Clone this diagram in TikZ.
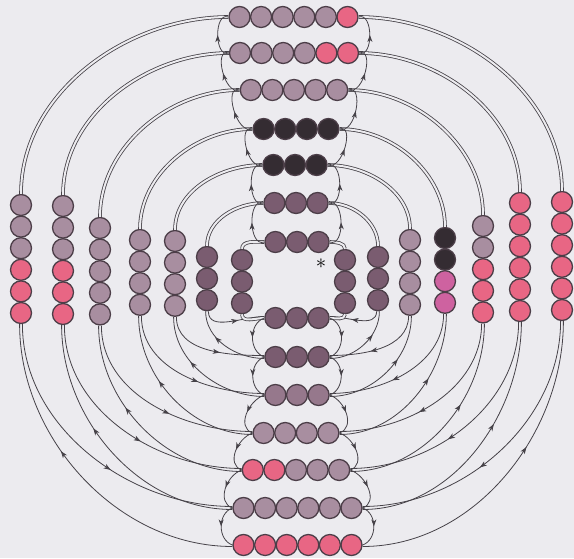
\documentclass[tikz,border=0pt]{standalone}
\usepackage{tikz}
\usetikzlibrary{arrows.meta,decorations.markings}

\definecolor{paper}{RGB}{236,235,239}
\definecolor{wire}{RGB}{70,66,72}
\definecolor{rim}{RGB}{76,62,72}
\definecolor{mauve}{RGB}{168,142,160}
\definecolor{heather}{RGB}{150,120,140}
\definecolor{plum}{RGB}{122,92,112}
\definecolor{ink}{RGB}{52,44,50}
\definecolor{rose}{RGB}{232,102,132}
\definecolor{orchid}{RGB}{206,98,160}

\tikzset{
  bead/.style={circle, draw=rim, line width=1.3pt, minimum size=21pt, inner sep=0pt},
  wire/.style={draw=wire, line width=0.8pt},
  twin/.style={wire, double=paper, double distance=2pt},
  fwd/.style={wire, postaction={decorate}, decoration={markings,
      mark=at position #1 with {\arrow{Stealth[length=7pt,width=5pt,inset=2pt]}}}},
  fwd/.default=0.5,
  bwd/.style={wire, postaction={decorate}, decoration={markings,
      mark=at position #1 with {\arrow{Stealth[length=7pt,width=5pt,inset=2pt,reversed]}}}},
  bwd/.default=0.5,
}

% row of beads: name, centre x, y, count, colours
\newcommand{\beadrow}[5]{%
  \foreach \c [count=\i] in {#5}
    \node[bead, fill=\c] (#1-\i) at ({#2+(\i-(#4+1)/2)*21.6}, #3) {};
}
% column of beads: name, x, top y, colours
\newcommand{\beadcol}[4]{%
  \foreach \c [count=\i] in {#4}
    \node[bead, fill=\c] (#1-\i) at (#2, {#3-(\i-1)*21.6}) {};
}

\begin{document}
\begin{tikzpicture}[x=1pt,y=1pt]
  \fill[paper] (0,0) rectangle (574,558);
  \useasboundingbox (0,0) rectangle (574,558);

  % middle rows
  \beadrow{r1}{293.5}{541}{6}{mauve,mauve,mauve,mauve,mauve,rose}
  \beadrow{r2}{294}{505}{6}{mauve,mauve,mauve,mauve,rose,rose}
  \beadrow{r3}{294}{468}{5}{mauve,mauve,mauve,mauve,mauve}
  \beadrow{r4}{296}{429}{4}{ink,ink,ink,ink}
  \beadrow{r5}{295}{393}{3}{ink,ink,ink}
  \beadrow{r6}{296}{355}{3}{plum,plum,plum}
  \beadrow{r7}{297}{316}{3}{plum,plum,plum}
  \beadrow{r8}{297}{240}{3}{plum,plum,plum}
  \beadrow{r9}{297}{201}{3}{plum,plum,plum}
  \beadrow{r10}{297}{163}{3}{heather,heather,heather}
  \beadrow{r11}{296}{125}{4}{mauve,mauve,mauve,mauve}
  \beadrow{r12}{296}{88}{5}{rose,rose,mauve,mauve,mauve}
  \beadrow{r13}{297.5}{50}{6}{mauve,mauve,mauve,mauve,mauve,mauve}
  \beadrow{r14}{297.5}{13}{6}{rose,rose,rose,rose,rose,rose}

  % side columns
  \beadcol{lc1}{21}{353}{mauve,mauve,mauve,rose,rose,rose}
  \beadcol{lc2}{63}{352}{mauve,mauve,mauve,rose,rose,rose}
  \beadcol{lc3}{100}{330}{mauve,mauve,mauve,mauve,mauve}
  \beadcol{lc4}{140}{318}{mauve,mauve,mauve,mauve}
  \beadcol{lc5}{175}{317}{mauve,mauve,mauve,mauve}
  \beadcol{lc6}{207}{301}{plum,plum,plum}
  \beadcol{lc7}{242}{298}{plum,plum,plum}
  \beadcol{rc7}{345}{298}{plum,plum,plum}
  \beadcol{rc6}{378}{301}{plum,plum,plum}
  \beadcol{rc5}{410}{318}{mauve,mauve,mauve,mauve}
  \beadcol{rc4}{445}{320}{ink,ink,orchid,orchid}
  \beadcol{rc3}{483}{332}{mauve,mauve,rose,rose,rose}
  \beadcol{rc2}{520}{355}{rose,rose,rose,rose,rose,rose}
  \beadcol{rc1}{562}{356}{rose,rose,rose,rose,rose,rose}

  \node (star) at (321,294) {\huge$\ast$};

  % upper arcs, column k to row k
  \foreach \k/\n in {1/6,2/6,3/5,4/4,5/3,6/3,7/3} {
    \draw[twin] (lc\k-1.north) to[out=90,in=180,looseness=0.95] (r\k-1.west);
    \draw[twin] (rc\k-1.north) to[out=90,in=0,looseness=0.95] (r\k-\n.east);
  }

  % lower arcs, outer strand back to the column, inner strand on to the row
  \foreach \k/\m/\ra/\na/\rb/\nb in {1/6/14/6/13/6, 2/6/13/6/12/5, 3/5/12/5/11/4,
                                     4/4/11/4/10/3, 5/4/10/3/9/3, 6/3/9/3/8/3} {
    \draw[bwd=0.42] ([xshift=-1.4pt]lc\k-\m.south) to[out=-90,in=180,looseness=0.95] ([yshift=-1.5pt]r\ra-1.west);
    \draw[fwd=0.58] ([xshift=1.4pt]lc\k-\m.south) to[out=-90,in=180,looseness=0.95] ([yshift=1.5pt]r\rb-1.west);
    \draw[bwd=0.42] ([xshift=1.4pt]rc\k-\m.south) to[out=-90,in=0,looseness=0.95] ([yshift=-1.5pt]r\ra-\na.east);
    \draw[fwd=0.58] ([xshift=-1.4pt]rc\k-\m.south) to[out=-90,in=0,looseness=0.95] ([yshift=1.5pt]r\rb-\nb.east);
  }
  \draw[twin] (lc7-3.south) to[out=-90,in=180] (r8-1.west);
  \draw[twin] (rc7-3.south) to[out=-90,in=0] (r8-3.east);

  % loops between neighbouring rows
  \foreach \a/\na/\b/\nb in {1/6/2/6, 2/6/3/5, 3/5/4/4, 4/4/5/3, 5/3/6/3, 6/3/7/3} {
    \draw[fwd] (r\b-1.west) to[out=200,in=160,looseness=1.1] (r\a-1.west);
    \draw[fwd] (r\b-\nb.east) to[out=-20,in=20,looseness=1.1] (r\a-\na.east);
  }
  \foreach \a/\na/\b/\nb in {8/3/9/3, 9/3/10/3, 10/3/11/4, 11/4/12/5, 12/5/13/6, 13/6/14/6} {
    \draw[fwd] (r\a-1.west) to[out=200,in=160,looseness=1.1] (r\b-1.west);
    \draw[fwd] (r\a-\na.east) to[out=-20,in=20,looseness=1.1] (r\b-\nb.east);
  }
\end{tikzpicture}
\end{document}
